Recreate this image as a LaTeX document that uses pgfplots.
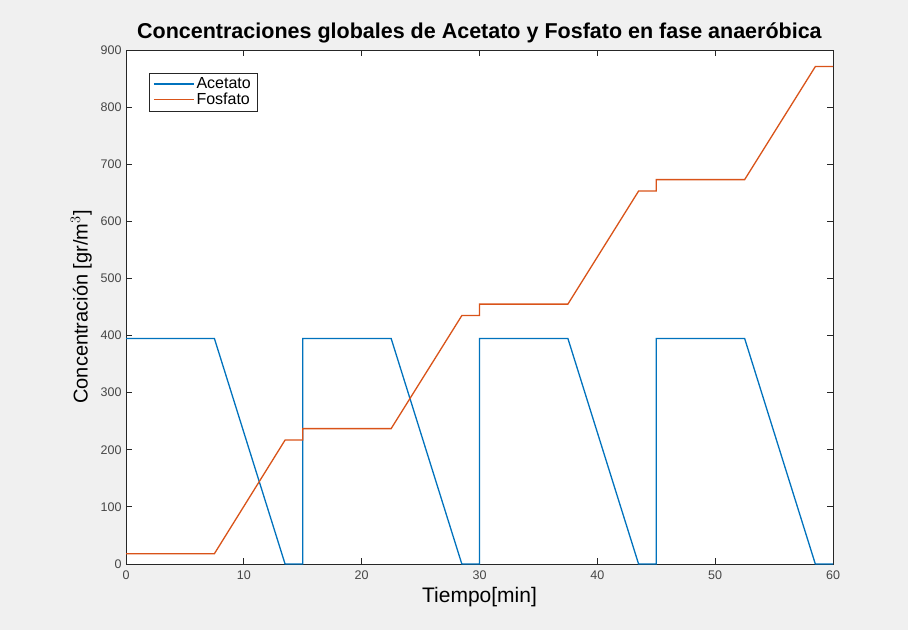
\documentclass[border=0pt]{standalone}
\usepackage{pgfplots}
\pgfplotsset{compat=1.18}
\usepackage{fontspec}
\setmainfont{Liberation Sans}
\definecolor{figbg}{HTML}{F0F0F0}
\definecolor{mblue}{RGB}{0,114,189}
\definecolor{morange}{RGB}{217,83,25}
\definecolor{axgray}{RGB}{38,38,38}
\definecolor{lblgray}{RGB}{70,70,70}
\begin{document}
\begin{tikzpicture}[x=1pt,y=1pt]
\fill[figbg] (0,0) rectangle (908,630);
\begin{axis}[
  at={(126pt,66pt)}, anchor=south west,
  scale only axis, width=707pt, height=514pt,
  xmin=0, xmax=60, ymin=0, ymax=900,
  xtick={0,10,...,60}, ytick={0,100,...,900},
  tick align=inside, major tick length=6pt,
  axis line style={axgray, line width=0.8pt},
  tick style={axgray, line width=0.8pt},
  axis background/.style={fill=white},
  /pgf/number format/assume math mode=true,
  ticklabel style={font=\fontsize{12.5}{14}\selectfont, text=lblgray},
  xticklabel style={yshift=-3pt},
  yticklabel style={xshift=-1pt},
  title={\textbf{Concentraciones globales de Acetato y Fosfato en fase anaeróbica}},
  title style={font=\fontsize{21.5}{24}\selectfont, yshift=-3pt},
  xlabel={Tiempo[min]},
  ylabel={Concentración [gr/m$^{3}$]},
  xlabel style={font=\fontsize{21}{24}\selectfont, yshift=-1pt},
  ylabel style={font=\fontsize{20}{23}\selectfont, yshift=2pt},
  legend style={at={(rel axis cs:0,1)}, anchor=north west, xshift=23pt, yshift=-23pt,
    font=\fontsize{16}{17}\selectfont, draw=axgray, fill=white, inner xsep=4pt, inner ysep=2.5pt,
    row sep=-1pt, cells={anchor=west}},
  legend cell align=left,
  legend image code/.code={\draw[#1] (0pt,0pt) -- (40pt,0pt);},
]
\addplot[draw=mblue, color=mblue, line width=1.3pt] coordinates {
(0,395) (7.5,395) (13.5,0) (15,0) (15,395) (22.5,395) (28.5,0) (30,0) (30,395)
(37.5,395) (43.5,0) (45,0) (45,395) (52.5,395) (58.5,0) (60,0)};
\addlegendentry{Acetato}
\addplot[draw=morange, color=morange, line width=1.3pt] coordinates {
(0,18) (7.5,18) (13.5,217) (15,217) (15,237) (22.5,237) (28.5,435) (30,435) (30,455)
(37.5,455) (43.5,653) (45,653) (45,673) (52.5,673) (58.5,871) (60,871)};
\addlegendentry{Fosfato}
\end{axis}
\end{tikzpicture}
\end{document}
